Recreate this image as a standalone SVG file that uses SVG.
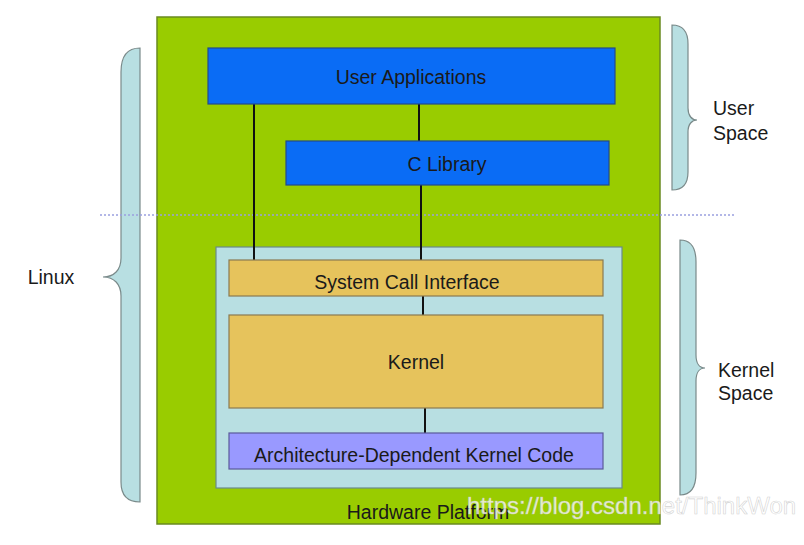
<svg xmlns="http://www.w3.org/2000/svg" width="804" height="545" viewBox="0 0 804 545">
<style>
text{font-family:"Liberation Sans",Arial,sans-serif;font-size:19.5px;fill:#1a1a1a;text-anchor:middle;dominant-baseline:central}
.brace{fill:#b8dfe2;stroke:#7a8a8a;stroke-width:1.2}
.blue{fill:#0a6cf5;stroke:#234a8a;stroke-width:1.2}
.orange{fill:#e6c35c;stroke:#8a7a50;stroke-width:1.2}
.conn{stroke:#111;stroke-width:2;fill:none}
.side{text-anchor:start}
</style>
<rect width="804" height="545" fill="#fff"/>
<g id="linux-brace">
<path class="brace" d="M140,48 C128,48 121,56 121,72 L121,258 C121,270 114,277 103,277 C114,277 121,284 121,296 L121,482 C121,496 128,502 140,502 Z"/>
<text x="51" y="277">Linux</text>
</g>
<g id="hardware">
<rect x="157" y="17" width="503" height="507" fill="#99cc00" stroke="#6a8a20" stroke-width="1.5"/>
<text x="428" y="512">Hardware Platform</text>
</g>
<line x1="100" y1="215" x2="736" y2="215" stroke="#9aa0e0" stroke-width="1.5" stroke-dasharray="2,2"/>
<g id="user-space-brace">
<path class="brace" d="M672,25 C682,25 688,31 688,44 L688,108 C688,116 692,120 697,120 C692,120 688,124 688,132 L688,172 C688,184 682,190 672,190 Z"/>
<text x="713" y="108" class="side">User</text>
<text x="713" y="133" class="side">Space</text>
</g>
<g id="kernel-space-brace">
<path class="brace" d="M680,240 C690,240 696,247 696,262 L696,355 C696,364 700,368 705,368 C700,368 696,372 696,381 L696,473 C696,488 690,495 680,495 Z"/>
<text x="718" y="370" class="side">Kernel</text>
<text x="718" y="393" class="side">Space</text>
</g>
<g id="kernel-area">
<rect x="216" y="247" width="406" height="241" fill="#b8dfe2" stroke="#6a8a8a" stroke-width="1.2"/>
</g>
<g id="connectors">
<line class="conn" x1="254" y1="104" x2="254" y2="260"/>
<line class="conn" x1="419" y1="104" x2="419" y2="141"/>
<line class="conn" x1="421" y1="185" x2="421" y2="260"/>
<line class="conn" x1="423" y1="296" x2="423" y2="315"/>
<line class="conn" x1="425" y1="408" x2="425" y2="433"/>
</g>
<g id="user-applications">
<rect class="blue" x="208" y="48" width="407" height="56"/>
<text x="411" y="77">User Applications</text>
</g>
<g id="c-library">
<rect class="blue" x="286" y="141" width="323" height="44"/>
<text x="447" y="164">C Library</text>
</g>
<g id="system-call-interface">
<rect class="orange" x="229" y="260" width="374" height="36"/>
<text x="407" y="282">System Call Interface</text>
</g>
<g id="kernel">
<rect class="orange" x="229" y="315" width="374" height="93"/>
<text x="416" y="362">Kernel</text>
</g>
<g id="arch-code">
<rect x="229" y="433" width="374" height="36" fill="#9999ff" stroke="#5a5a9a" stroke-width="1.2"/>
<text x="414" y="455">Architecture-Dependent Kernel Code</text>
</g>
<text x="467" y="505" style="text-anchor:start;font-size:24px;fill:#ffffff;fill-opacity:0.8;stroke:#c8c8c8;stroke-width:0.6;stroke-opacity:0.8">https://blog.csdn.net/ThinkWon</text>
</svg>
